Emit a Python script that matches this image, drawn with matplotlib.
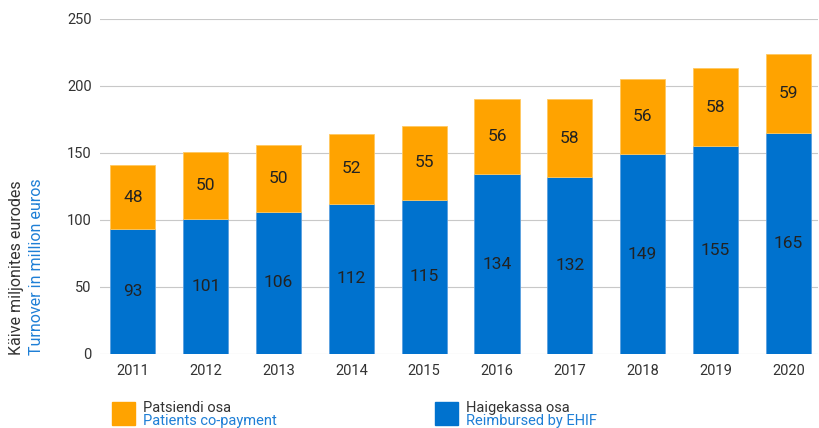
import matplotlib.pyplot as plt
from matplotlib.patches import Rectangle

years = ["2011", "2012", "2013", "2014", "2015", "2016", "2017", "2018", "2019", "2020"]
ehif = [93, 101, 106, 112, 115, 134, 132, 149, 155, 165]
copay = [48, 50, 50, 52, 55, 56, 58, 56, 58, 59]
yticks = [0, 50, 100, 150, 200, 250]

blue = "#0072CE"
orange = "#FFA300"
textblue = "#1E7FD6"
dark = "#333333"

plt.rcParams['font.family'] = ['Roboto', 'DejaVu Sans']

fig = plt.figure(figsize=(8.19, 4.28), dpi=100)
ax = fig.add_axes([0.122, 0.173, 0.877, 0.783])

x = range(len(years))
b1 = ax.bar(x, ehif, width=0.62, color=blue, edgecolor="#5a9fe0", linewidth=0.6, zorder=2)
b2 = ax.bar(x, copay, width=0.62, bottom=ehif, color=orange, edgecolor="#ffc860", linewidth=0.6, zorder=2)
ax.bar_label(b1, label_type='center', fontsize=12.5, color="#222222")
ax.bar_label(b2, label_type='center', fontsize=12.5, color="#222222")

ax.set_ylim(0, 250)
ax.set_xlim(-0.453, 9.41)
ax.set_yticks(yticks)
ax.set_xticks(list(x))
ax.set_xticklabels(years)
ax.grid(axis='y', color="#c8c8c8", linewidth=0.8, zorder=0)
for s in ax.spines.values():
    s.set_visible(False)
ax.tick_params(axis='both', length=0, labelsize=10.5, colors=dark)
ax.tick_params(axis='y', pad=6)
ax.tick_params(axis='x', pad=7)

# y axis title in two colours
fig.text(17 / 819, 1 - 355 / 428, "Käive miljonites eurodes", rotation=90,
         ha='center', va='bottom', fontsize=11.5, color=dark)
fig.text(37 / 819, 1 - 355 / 428, "Turnover in million euros", rotation=90,
         ha='center', va='bottom', fontsize=11.5, color=textblue)

# legend
def legend_item(px, color, et, en):
    fig.patches.append(Rectangle((px / 819, 1 - 425 / 428), 23 / 819, 23 / 428,
                                 transform=fig.transFigure, color=color))
    fig.text((px + 31) / 819, 1 - 408 / 428, et, fontsize=10.5, color=dark, va='center')
    fig.text((px + 31) / 819, 1 - 421 / 428, en, fontsize=10.5, color=textblue, va='center')

legend_item(112, orange, "Patsiendi osa", "Patients co-payment")
legend_item(435, blue, "Haigekassa osa", "Reimbursed by EHIF")

fig.savefig("out.png", dpi=100)
